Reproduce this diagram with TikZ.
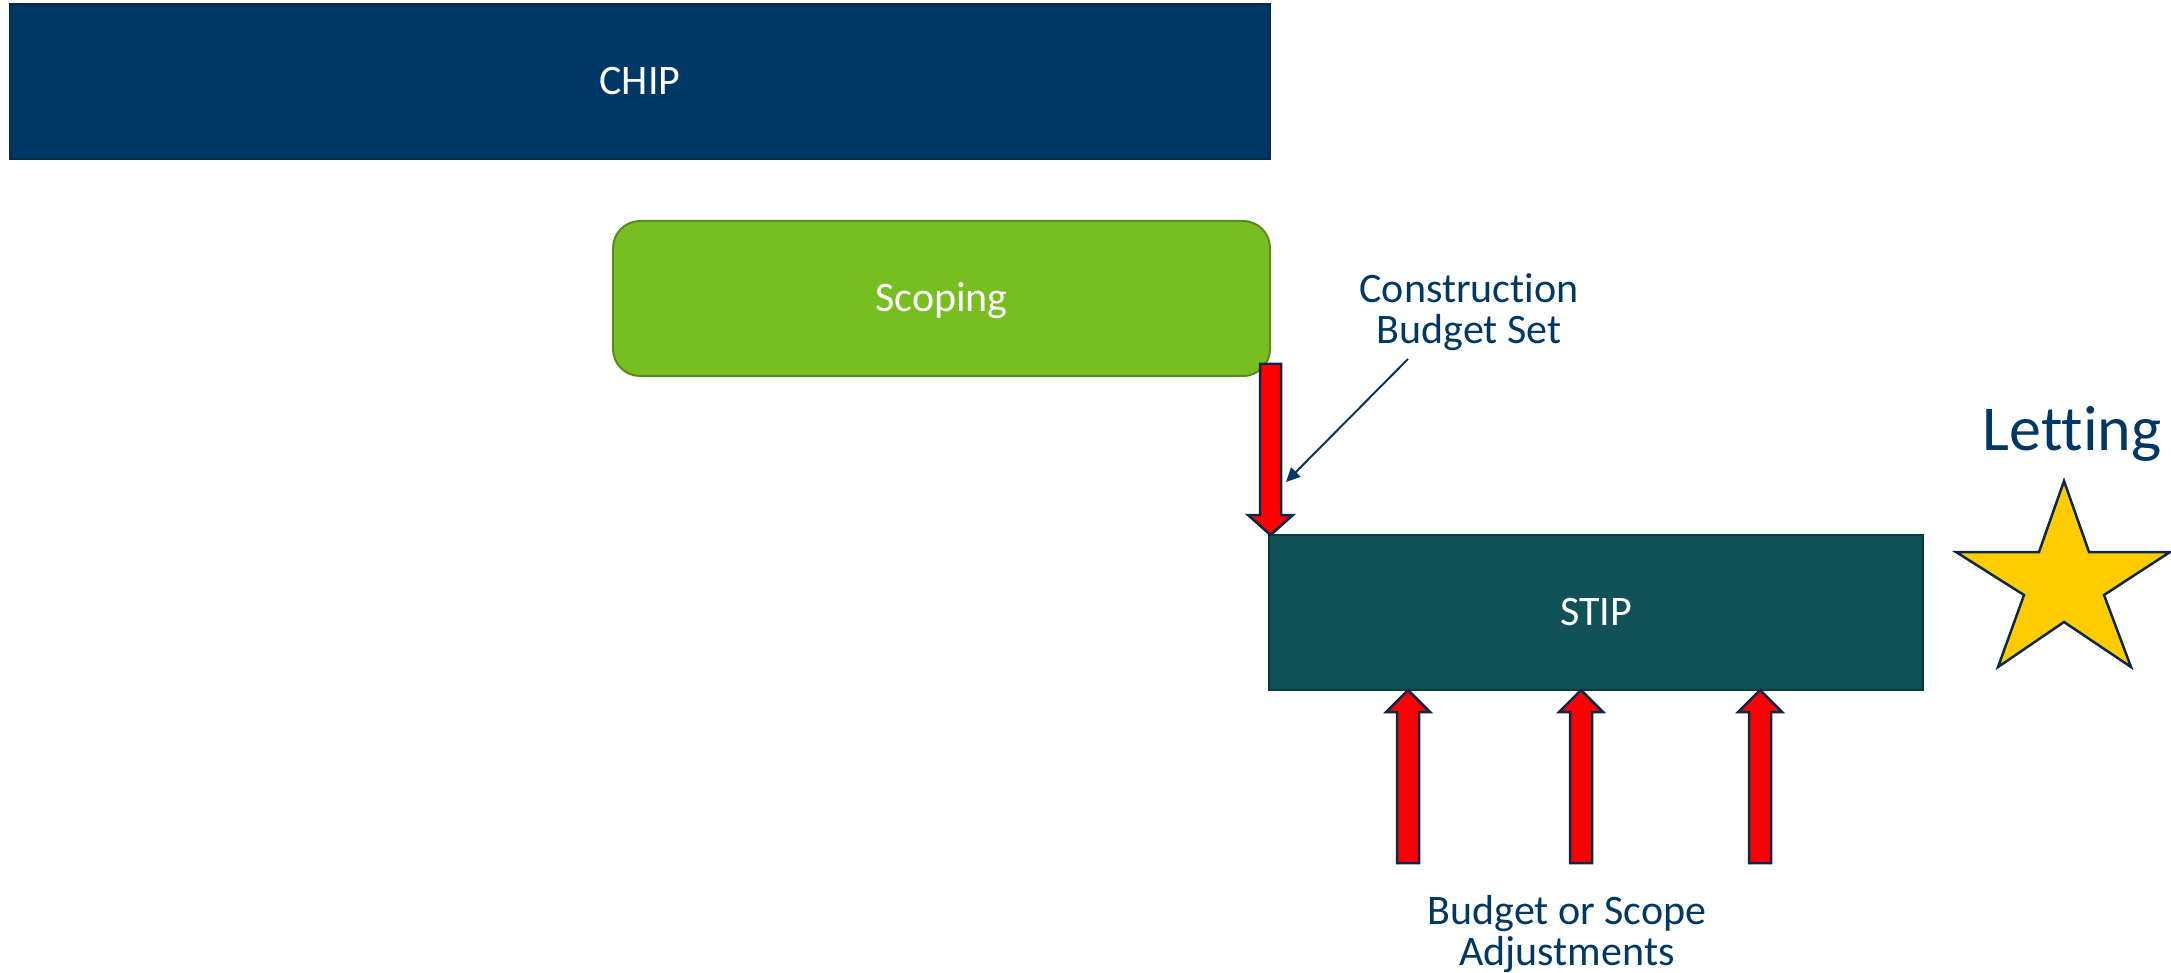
\documentclass[tikz,border=0pt]{standalone}
\usepackage{fontspec}
\setmainfont{Carlito}[Ligatures={NoCommon,NoContextual,NoRequired}, RawFeature={-liga;-clig;-dlig;-calt}]
\usetikzlibrary{arrows.meta}
\definecolor{navy}{RGB}{0,56,101}
\definecolor{navyedge}{RGB}{12,40,72}
\definecolor{scopegreen}{RGB}{120,190,32}
\definecolor{scopeedge}{RGB}{88,140,30}
\definecolor{stipteal}{RGB}{16,82,87}
\definecolor{stipedge}{RGB}{8,58,62}
\definecolor{starfill}{RGB}{255,204,0}
\definecolor{arrowred}{RGB}{255,0,0}
\begin{document}
\begin{tikzpicture}[x=1pt,y=-1pt,
  box/.style={rectangle, inner sep=0pt, minimum height=155pt, text=white,
    font=\fontsize{42pt}{41pt}\selectfont, text height=34pt, text depth=8pt, line width=2pt},
  chipbox/.style={box, fill=navy, draw=navyedge},
  scopebox/.style={box, fill=scopegreen, draw=scopeedge, rounded corners=27pt},
  stipbox/.style={box, fill=stipteal, draw=stipedge},
  lbl/.style={inner sep=0pt, text=navy, font=\fontsize{42pt}{41pt}\selectfont, align=center},
  blockarrow/.style={fill=arrowred, draw=navyedge, line width=2.5pt, line join=miter},
  pointer/.style={draw=navy, line width=2pt, -{Triangle[length=14pt,width=13pt]}},
  starshape/.style={fill=starfill, draw=navyedge, line width=2.5pt, line join=miter}
]
\useasboundingbox (0,0) rectangle (2171,973);

% boxes
\node[chipbox, minimum width=1260pt] (chip) at (640,81.5) {CHIP};
\node[scopebox, minimum width=657pt] (scoping) at (941.5,298.5) {Scoping};
\node[stipbox, minimum width=654pt] (stip) at (1596,612.5) {STIP};

% down block arrow (scoping -> stip)
\draw[blockarrow, shift={(1270.5,535)}]
  (0,0) -- (22.5,-20) -- (10.5,-20) -- (10.5,-171) -- (-10.5,-171) -- (-10.5,-20) -- (-22.5,-20) -- cycle;

% up block arrows
\foreach \ax in {1408,1581,1760}{
  \draw[blockarrow, shift={(\ax,690)}]
    (0,0) -- (22,22) -- (11,22) -- (11,173) -- (-11,173) -- (-11,22) -- (-22,22) -- cycle;
}

% labels
\node[lbl] (cb) at (1469,312.5) {Construction\\Budget Set};
\node[lbl] (bsa) at (1567,934) {Budget or Scope\\Adjustments};
\node[lbl, anchor=base, font=\fontsize{64pt}{72pt}\selectfont] (letting) at (2072,450) {Letting};

% pointer
\coordinate (cbfrom) at (1408,359);
\coordinate (cbto) at (1286,482);
\draw[pointer] (cbfrom) -- (cbto);

% star
\draw[starshape] (2064,481) -- (2089,552) -- (2170,552) -- (2104,595) -- (2131,667)
  -- (2064,622) -- (1998,667) -- (2024,595) -- (1956,552) -- (2039,552) -- cycle;
\end{tikzpicture}
\end{document}
